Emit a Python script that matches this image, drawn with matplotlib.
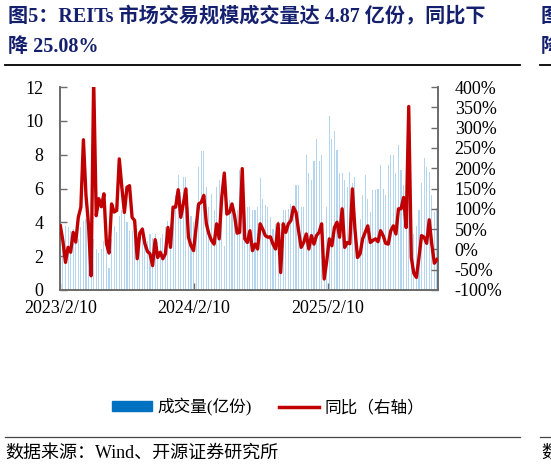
import matplotlib
matplotlib.use('Agg')
import matplotlib.pyplot as plt
import matplotlib.patches as mpatches
import matplotlib.lines as mlines
import pandas as pd

plt.rcParams['font.family'] = ['Liberation Serif', 'Noto Sans CJK SC']
plt.rcParams['axes.unicode_minus'] = False

# weekly data, first week 2023/2/10
dates = pd.date_range('2023-02-10', periods=148, freq='7D')

# 成交量 (亿份)
volume = [
    4.5, 3.4, 3.8, 3.7, 3.5, 3.6, 3.2, 3.0, 3.7, 4.1,
    4.2, 3.0, 1.5, 3.0, 2.4, 2.2, 2.4, 2.9, 2.7, 1.3,
    3.0, 3.8, 3.4, 4.4, 4.7, 4.9, 4.0, 3.5, 3.5, 3.9,
    2.9, 3.5, 3.7, 3.1, 2.9, 3.3, 3.1, 3.3, 2.9, 3.1,
    3.3, 3.7, 4.1, 3.9, 4.1, 5.6, 6.8, 5.8, 6.7, 6.7,
    4.9, 4.4, 4.0, 5.0, 7.3, 8.2, 8.2, 6.1, 4.9, 5.7,
    4.7, 6.1, 6.5, 5.5, 2.6, 4.7, 5.3, 4.9, 4.1, 4.7,
    7.1, 7.2, 3.9, 4.9, 4.9, 4.7, 4.7, 4.9, 6.6, 5.4,
    5.0, 4.9, 4.3, 3.6, 3.9, 4.1, 2.5, 4.7, 4.7, 4.8,
    5.1, 4.9, 6.2, 6.2, 4.9, 4.9, 8.0, 6.9, 6.5, 7.6,
    8.9, 7.6, 8.0, 2.0, 4.9, 10.3, 8.9, 9.4, 8.3, 6.9,
    6.9, 6.5, 6.1, 7.0, 6.3, 6.7, 2.5, 4.2, 5.6, 6.8,
    5.4, 4.6, 5.9, 5.9, 6.0, 7.4, 6.0, 5.6, 7.4, 8.0,
    8.0, 6.9, 8.6, 7.1, 6.2, 4.5, 5.8, 2.8, 3.3, 3.8,
    4.7, 6.3, 7.8, 7.3, 7.0, 5.6, 4.6, 4.87,
]

# 同比 (%)
yoy = [
    58, 20, -32, 5, -7, 42, 18, 79, 104, 270,
    133, 60, -65, 420, 83, 125, 105, 137, 14, -9,
    112, 92, 96, 223, 153, 91, 153, 157, 79, 71,
    -23, 40, 50, 14, -5, -11, -40, 24, -20, -7,
    -23, -11, 54, 5, 104, 104, 147, 79, 112, 149,
    30, 9, -3, 54, 112, 116, 133, 63, 38, 22,
    13, 63, 26, 128, 188, 87, 91, 112, 83, 40,
    42, 199, 26, 17, 46, -3, 13, 1, 63, 50,
    34, 30, 31, 13, 1, 63, -57, 63, 42, 63,
    71, 104, 91, 46, 5, 17, 38, 1, 34, 13,
    34, 42, 63, -73, -28, 26, 9, 54, 67, 30,
    100, 5, 17, 14, 149, 50, -20, -11, 26, 42,
    58, 17, 22, 26, 19, 46, 34, 15, 13, 46,
    58, 38, 100, 100, 128, 54, 352, -20, -59, -69,
    -20, 34, 30, 15, 73, 13, -34, -25.08,
]

tick_dates = ['2023-02-10', '2024-02-10', '2025-02-10']
tick_labels = ['2023/2/10', '2024/2/10', '2025/2/10']

navy = '#14206e'
spine_c = '#6b6b6b'

fig = plt.figure(figsize=(5.51, 4.67), dpi=100)

# title
fig.text(8/551, 1-17/467, '图5：REITs 市场交易规模成交量达 4.87 亿份，同比下',
         fontsize=14.5, fontweight='bold', color=navy, va='center', ha='left')
fig.text(8/551, 1-47/467, '降 25.08%',
         fontsize=14.5, fontweight='bold', color=navy, va='center', ha='left')
# neighbouring chart peeking in at the right edge
fig.text(541/551, 1-17/467, '图', fontsize=14.5, fontweight='bold', color=navy, va='center', ha='left')
fig.text(541/551, 1-47/467, '降', fontsize=14.5, fontweight='bold', color=navy, va='center', ha='left')
fig.text(541/551, 1-453/467, '数', fontsize=13, color='black', va='center', ha='left')
fig.add_artist(mlines.Line2D([5/551, 520/551], [1-65/467, 1-65/467], color='black', lw=1.3))
fig.add_artist(mlines.Line2D([540/551, 1], [1-65/467, 1-65/467], color='black', lw=1.3))
fig.add_artist(mlines.Line2D([5/551, 520/551], [1-437/467, 1-437/467], color='#444444', lw=0.9))
fig.add_artist(mlines.Line2D([540/551, 1], [1-437/467, 1-437/467], color='#444444', lw=0.9))

ax = fig.add_axes([60/551, 1-290/467, 378/551, 203/467])
ax.bar(dates, volume, width=3, color='#b5d4ee', linewidth=0, zorder=1)
ax.set_ylim(0, 12)
ax.set_yticks(range(0, 13, 2))
ax.set_xlim(dates[0] - pd.Timedelta(days=1), dates[-1] + pd.Timedelta(days=3))
ax.set_xticks([pd.Timestamp(d) for d in tick_dates])
ax.set_xticklabels(tick_labels)

ax2 = ax.twinx()
ax2.plot(dates, yoy, color='#c00000', lw=2.4, zorder=3)
ax2.set_ylim(-100, 400)
ax2.set_yticks(range(-100, 401, 50))
ax2.set_yticklabels([f'{v}%' for v in range(-100, 401, 50)])

for a in (ax, ax2):
    a.spines['top'].set_visible(False)
    for s in ('left', 'right', 'bottom'):
        a.spines[s].set_color(spine_c)
        a.spines[s].set_linewidth(1.2)
    a.tick_params(direction='in', length=5, width=1.0, color=spine_c, labelsize=13)
ax.tick_params(axis='y', pad=12)
ax.tick_params(axis='x', pad=7)
ax2.tick_params(axis='y', pad=12)

# legend
h1 = mpatches.Patch(color='#0070c0', label='成交量(亿份)')
h2 = mlines.Line2D([], [], color='#c00000', lw=2.5, label='同比（右轴）')
fig.legend(handles=[h1, h2], loc='center', bbox_to_anchor=(268/551, 1-407/467), ncol=2,
           frameon=False, fontsize=12, handlelength=2.4, handleheight=0.5,
           handletextpad=0.35, columnspacing=1.6)

fig.text(5/551, 1-453/467, '数据来源：Wind、开源证券研究所', fontsize=13,
         color='black', va='center', ha='left')

fig.savefig('out.png', dpi=100)
